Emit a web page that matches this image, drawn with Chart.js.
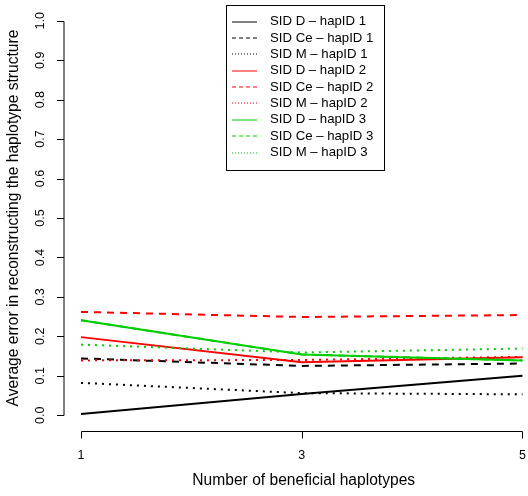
<!DOCTYPE html>
<html><head><meta charset="utf-8">
<script src="https://cdn.jsdelivr.net/npm/chart.js@4.4.0/dist/chart.umd.min.js"></script>
<style>html,body{margin:0;padding:0;background:#fff;}canvas{display:block;}</style>
</head><body>
<canvas id="c" width="528" height="496"></canvas>
<script>
// ---- data ----
const xValues = [1, 3, 5];
const xTickLabels = ['1', '3', '5'];
const yTickValues = [0, 0.1, 0.2, 0.3, 0.4, 0.5, 0.6, 0.7, 0.8, 0.9, 1.0];
const yTickLabels = ['0.0', '0.1', '0.2', '0.3', '0.4', '0.5', '0.6', '0.7', '0.8', '0.9', '1.0'];
const xTitle = 'Number of beneficial haplotypes';
const yTitle = 'Average error in reconstructing the haplotype structure';
const seriesNames = [
  'SID D \u2013 hapID 1', 'SID Ce \u2013 hapID 1', 'SID M \u2013 hapID 1',
  'SID D \u2013 hapID 2', 'SID Ce \u2013 hapID 2', 'SID M \u2013 hapID 2',
  'SID D \u2013 hapID 3', 'SID Ce \u2013 hapID 3', 'SID M \u2013 hapID 3'
];
const sidD_hap1  = [0.003, 0.054, 0.100];
const sidCe_hap1 = [0.144, 0.125, 0.131];
const sidM_hap1  = [0.082, 0.056, 0.053];
const sidD_hap2  = [0.198, 0.134, 0.147];
const sidCe_hap2 = [0.262, 0.249, 0.254];
const sidM_hap2  = [0.139, 0.140, 0.148];
const sidD_hap3  = [0.241, 0.154, 0.139];
const sidCe_hap3 = [0.241, 0.154, 0.139];
const sidM_hap3  = [0.179, 0.159, 0.169];
const seriesValues = [sidD_hap1, sidCe_hap1, sidM_hap1, sidD_hap2, sidCe_hap2, sidM_hap2, sidD_hap3, sidCe_hap3, sidM_hap3];

// ---- styles ----
const seriesColors = ['#000000', '#000000', '#000000', '#FF0000', '#FF0000', '#FF0000', '#00CD00', '#00CD00', '#00CD00'];
const seriesLty = ['solid', 'dashed', 'dotted', 'solid', 'dashed', 'dotted', 'solid', 'dashed', 'dotted'];
const lineDash = { solid: [], dashed: [7, 6], dotted: [2, 5] };
const legendDash = { solid: [], dashed: [4, 3], dotted: [1, 2] };
const FONT = '"Liberation Sans", Arial, Helvetica, sans-serif';

const datasets = seriesNames.map((name, i) => ({
  label: name,
  data: xValues.map((x, j) => ({ x: x, y: seriesValues[i][j] })),
  borderColor: seriesColors[i],
  backgroundColor: seriesColors[i],
  borderWidth: 2,
  borderDash: lineDash[seriesLty[i]],
  pointRadius: 0,
  tension: 0,
  fill: false,
  order: seriesNames.length - i
}));

const rStyle = {
  id: 'rStyle',
  afterDraw(chart) {
    const ctx = chart.ctx;
    const xs = chart.scales.x, ys = chart.scales.y;
    const area = chart.chartArea;
    ctx.save();
    ctx.strokeStyle = '#000';
    ctx.fillStyle = '#000';
    ctx.lineWidth = 1;
    ctx.setLineDash([]);
    // x axis
    const axY = Math.round(area.bottom) + 0.5;
    ctx.beginPath();
    ctx.moveTo(Math.round(xs.getPixelForValue(xValues[0])) + 0.5, axY);
    ctx.lineTo(Math.round(xs.getPixelForValue(xValues[xValues.length - 1])) + 0.5, axY);
    xValues.forEach(v => {
      const px = Math.round(xs.getPixelForValue(v)) + 0.5;
      ctx.moveTo(px, axY);
      ctx.lineTo(px, axY + 7);
    });
    ctx.stroke();
    ctx.font = '12.5px ' + FONT;
    ctx.textAlign = 'center';
    ctx.textBaseline = 'middle';
    xValues.forEach((v, i) => {
      ctx.fillText(xTickLabels[i], xs.getPixelForValue(v), 456);
    });
    // y axis
    const axX = Math.round(area.left) + 1;
    ctx.beginPath();
    ctx.moveTo(axX, Math.round(ys.getPixelForValue(yTickValues[0])) + 0.5);
    ctx.lineTo(axX, Math.round(ys.getPixelForValue(yTickValues[yTickValues.length - 1])) + 0.5);
    yTickValues.forEach(v => {
      const py = Math.round(ys.getPixelForValue(v)) + 0.5;
      ctx.moveTo(axX, py);
      ctx.lineTo(axX - 7, py);
    });
    ctx.stroke();
    yTickValues.forEach((v, i) => {
      const py = ys.getPixelForValue(v);
      ctx.save();
      ctx.translate(41, py);
      ctx.rotate(-Math.PI / 2);
      ctx.fillText(yTickLabels[i], 0, 0);
      ctx.restore();
    });
    // titles
    ctx.font = '15.6px ' + FONT;
    ctx.fillText(xTitle, (xs.getPixelForValue(xValues[0]) + xs.getPixelForValue(xValues[xValues.length - 1])) / 2 + 2, 481);
    ctx.save();
    ctx.translate(14, (ys.getPixelForValue(0) + ys.getPixelForValue(1)) / 2);
    ctx.rotate(-Math.PI / 2);
    ctx.fillText(yTitle, 0, 0);
    ctx.restore();
    // legend
    const bx = 226, by = 5, bw = 158, bh = 165;
    ctx.fillStyle = '#fff';
    ctx.fillRect(bx, by, bw, bh);
    ctx.strokeStyle = '#000';
    ctx.strokeRect(bx + 0.5, by + 0.5, bw, bh);
    ctx.font = '13.2px ' + FONT;
    ctx.textAlign = 'left';
    seriesNames.forEach((name, i) => {
      const ry = 21.7 + i * 16.35;
      ctx.strokeStyle = seriesColors[i];
      ctx.lineWidth = 1;
      ctx.setLineDash(legendDash[seriesLty[i]]);
      ctx.beginPath();
      ctx.moveTo(232, Math.round(ry));
      ctx.lineTo(257, Math.round(ry));
      ctx.stroke();
      ctx.setLineDash([]);
      ctx.fillStyle = '#000';
      ctx.fillText(name, 270, ry);
    });
    ctx.restore();
  }
};

new Chart(document.getElementById('c'), {
  type: 'line',
  data: { datasets: datasets },
  options: {
    responsive: false,
    animation: false,
    devicePixelRatio: 1,
    layout: { padding: { left: 63, top: 5, right: 0, bottom: 65 } },
    plugins: { legend: { display: false }, tooltip: { enabled: false } },
    scales: {
      x: { type: 'linear', display: false, min: 0.837, max: 5.05 },
      y: { type: 'linear', display: false, min: -0.04, max: 1.04 }
    }
  },
  plugins: [rStyle]
});
</script>
</body></html>
